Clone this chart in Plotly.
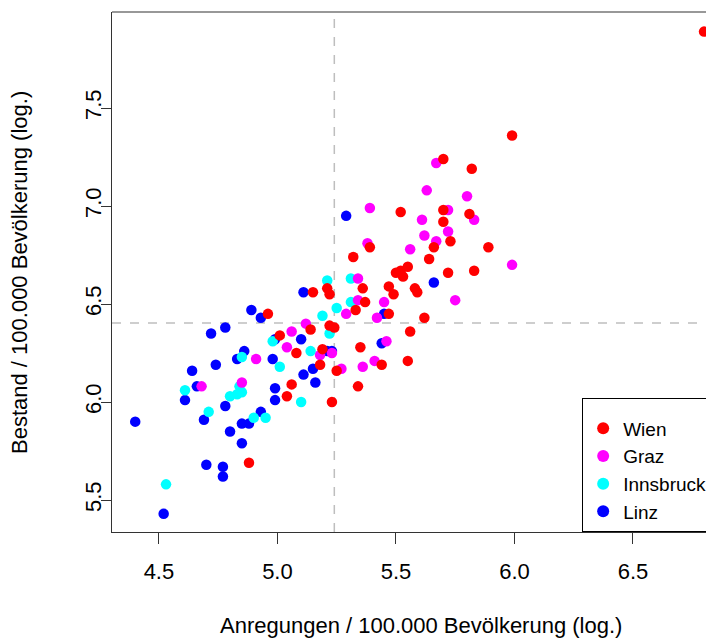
import plotly.graph_objects as go

# Wien
wien_x = [6.80, 5.99, 5.82, 5.70, 5.52, 5.70, 5.70, 5.73, 5.66, 5.39, 5.32, 5.64, 5.81, 5.89,
          5.83, 5.72, 5.50, 5.52, 5.55, 5.53, 5.47, 5.49, 5.58, 5.59, 5.36, 5.21, 5.22, 5.15,
          4.96, 5.37, 5.33, 5.47, 5.62, 5.56, 5.22, 5.24, 5.14, 5.01, 5.35, 5.55, 5.44, 5.25,
          5.34, 5.23, 5.08, 5.19, 5.18, 5.06, 5.04, 4.88]
wien_y = [7.89, 7.36, 7.19, 7.24, 6.97, 6.98, 6.92, 6.82, 6.79, 6.79, 6.74, 6.73, 6.96, 6.79,
          6.67, 6.66, 6.66, 6.67, 6.69, 6.64, 6.59, 6.55, 6.58, 6.56, 6.58, 6.58, 6.55, 6.56,
          6.45, 6.51, 6.47, 6.45, 6.43, 6.36, 6.39, 6.38, 6.37, 6.34, 6.28, 6.21, 6.19, 6.16,
          6.08, 6.00, 6.25, 6.27, 6.19, 6.09, 6.03, 5.69]

# Graz
graz_x = [5.67, 5.63, 5.39, 5.72, 5.61, 5.72, 5.62, 5.67, 5.38, 5.56, 5.80, 5.83, 5.99, 5.75,
          5.34, 5.34, 5.29, 5.45, 5.42, 5.46, 5.23, 5.41, 5.36, 5.27, 5.12, 5.06, 5.04, 5.18,
          4.91, 4.85, 4.68]
graz_y = [7.22, 7.08, 6.99, 6.98, 6.93, 6.87, 6.85, 6.82, 6.81, 6.78, 7.05, 6.93, 6.70, 6.52,
          6.63, 6.52, 6.45, 6.51, 6.43, 6.31, 6.25, 6.21, 6.18, 6.17, 6.40, 6.36, 6.28, 6.24,
          6.22, 6.10, 6.08]

# Innsbruck
ibk_x = [5.31, 5.25, 5.31, 5.22, 5.21, 5.19, 4.98, 5.14, 4.85, 5.01, 4.85, 5.10, 4.90, 4.95,
         4.61, 4.84, 4.80, 4.83, 4.71, 4.53]
ibk_y = [6.63, 6.48, 6.51, 6.35, 6.62, 6.44, 6.31, 6.26, 6.23, 6.18, 6.05, 6.00, 5.92, 5.92,
         6.06, 6.08, 6.03, 6.04, 5.95, 5.58]

# Linz
linz_x = [5.29, 5.66, 5.45, 5.44, 5.23, 5.11, 4.89, 4.93, 5.10, 4.99, 5.21, 4.86, 4.98, 5.15,
          5.11, 4.99, 4.99, 5.16, 4.93, 4.85, 4.88, 4.85, 4.78, 4.72, 4.83, 4.74, 4.64, 4.66,
          4.61, 4.78, 4.69, 4.40, 4.80, 4.70, 4.77, 4.77, 4.52]
linz_y = [6.95, 6.61, 6.45, 6.30, 6.26, 6.56, 6.47, 6.43, 6.32, 6.32, 6.26, 6.26, 6.22, 6.17,
          6.14, 6.07, 6.01, 6.10, 5.95, 5.89, 5.89, 5.79, 6.38, 6.35, 6.22, 6.19, 6.16, 6.08,
          6.01, 5.98, 5.91, 5.90, 5.85, 5.68, 5.67, 5.62, 5.43]

median_x = 5.24
median_y = 6.403

x_ticks = [4.5, 5.0, 5.5, 6.0, 6.5]
y_ticks = [5.5, 6.0, 6.5, 7.0, 7.5]

FONT = "Liberation Sans, Arial, sans-serif"

fig = go.Figure()
series = [
    ("Linz", linz_x, linz_y, "#0000FF", 4),
    ("Innsbruck", ibk_x, ibk_y, "#00FFFF", 3),
    ("Graz", graz_x, graz_y, "#FF00FF", 2),
    ("Wien", wien_x, wien_y, "#FF0000", 1),
]
for name, xs, ys, col, rank in series:
    fig.add_trace(go.Scatter(
        x=xs, y=ys, mode="markers", name=name, legendrank=rank,
        marker=dict(color=col, size=10.5, line=dict(width=0)),
    ))

fig.add_shape(type="line", xref="x", yref="paper", x0=median_x, x1=median_x, y0=0, y1=1,
              line=dict(color="#BEBEBE", width=1.5, dash="dash"), layer="below")
fig.add_shape(type="line", xref="paper", yref="y", x0=0, x1=1, y0=median_y, y1=median_y,
              line=dict(color="#BEBEBE", width=1.5, dash="dash"), layer="below")
# top frame line
fig.add_shape(type="line", xref="paper", yref="paper", x0=0, x1=1, y0=1, y1=1,
              line=dict(color="#333333", width=1.2))

fig.add_annotation(text="Anregungen / 100.000 Bevölkerung (log.)", xref="paper", yref="paper",
                   x=0.513, y=-0.179, xanchor="center", yanchor="middle", showarrow=False,
                   font=dict(family=FONT, size=22, color="#000000"))
fig.add_annotation(text="Bestand / 100.000 Bevölkerung (log.)", xref="paper", yref="paper",
                   x=-0.1545, y=0.5, xanchor="center", yanchor="middle", showarrow=False,
                   textangle=-90, font=dict(family=FONT, size=22, color="#000000"))

fig.update_layout(
    width=706, height=630,
    margin=dict(l=104, r=0, t=4, b=106, autoexpand=False),
    paper_bgcolor="white", plot_bgcolor="white",
    font=dict(family=FONT, size=22, color="#000000"),
    showlegend=True,
    legend=dict(x=0.781, y=0, xanchor="left", yanchor="bottom",
                bordercolor="#000000", borderwidth=1, bgcolor="white",
                font=dict(family=FONT, size=19), itemsizing="constant",
                traceorder="normal",
                title=dict(text=" ", font=dict(family=FONT, size=8))),
    xaxis=dict(range=[4.302, 6.842], tickvals=x_ticks, ticktext=[f"{v:.1f}" for v in x_ticks],
               showgrid=False, zeroline=False, showline=True, linecolor="#333333", linewidth=1.2,
               ticks="outside", ticklen=11, tickcolor="#333333", tickwidth=1.2,
               ticklabelstandoff=8),
    yaxis=dict(range=[5.337, 7.990], tickvals=y_ticks, ticktext=[f"{v:.1f}" for v in y_ticks],
               showgrid=False, zeroline=False, showline=True, linecolor="#333333", linewidth=1.2,
               ticks="outside", ticklen=10, tickcolor="#333333", tickwidth=1.2, tickangle=-90,
               ticklabelstandoff=-9),
)

fig.write_html("out.html")
